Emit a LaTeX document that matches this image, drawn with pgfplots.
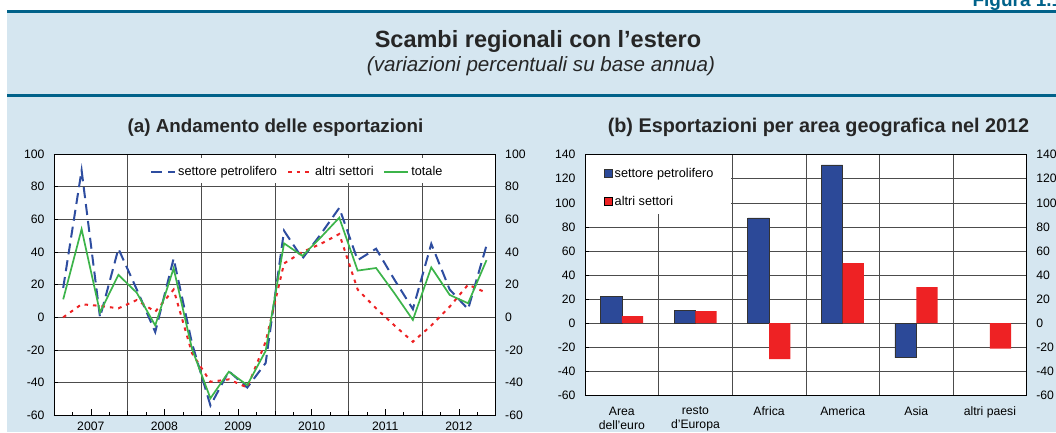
\documentclass[border=0pt]{standalone}
\usepackage{fontspec}
\setmainfont{Liberation Sans}
\usepackage{pgfplots}
\pgfplotsset{compat=1.18}

\definecolor{bgblue}{RGB}{213,230,240}
\definecolor{lineblue}{RGB}{0,98,138}
\definecolor{petro}{RGB}{46,77,160}
\definecolor{altri}{RGB}{238,34,36}
\definecolor{tot}{RGB}{60,180,74}

\newcommand{\tickfont}{\fontsize{12.2}{14}\selectfont}
\newcommand{\legfont}{\fontsize{12.7}{14}\selectfont}

\pgfplotsset{
  lnlegend/.style={legend image code/.code={\draw[##1] (0pt,0pt) -- (24pt,0pt);}},
  sqlegend/.style={legend image code/.code={\draw[##1] (0pt,-4pt) rectangle (8pt,4pt);}},
  panel/.style={
    scale only axis, anchor=south west,
    axis background/.style={fill=white},
    axis line style={black, line width=0.8pt},
    grid style={black!70, line width=0.6pt},
    tick style={black, line width=0.6pt},
    tick align=inside, tick pos=left,
    yticklabel style={font=\tickfont, xshift=-6pt},
    xticklabel style={font=\tickfont},
  },
  rightlabels/.style={
    scale only axis, anchor=south west,
    hide x axis, axis y line*=right,
    axis line style={black, line width=0.8pt},
    ytick style={draw=none},
    yticklabel style={font=\tickfont, xshift=6pt},
  },
}

\begin{document}
\begin{tikzpicture}
\useasboundingbox (0pt,0pt) rectangle (1056pt,432pt);
\fill[bgblue] (7pt,0pt) rectangle (1056pt,420pt);
\fill[lineblue] (7pt,418.5pt) rectangle (1056pt,421.5pt);
\fill[lineblue] (7pt,335.5pt) rectangle (1056pt,338.5pt);
\node[anchor=base west, text=lineblue, font=\fontsize{19}{20}\selectfont\bfseries] at (969pt,425pt) {Figura 1.1};
\node[anchor=base, font=\fontsize{23.5}{26}\selectfont\bfseries, text=black!85] at (538pt,384pt) {Scambi regionali con l’estero};
\node[anchor=base, font=\fontsize{20.6}{22}\selectfont\itshape, text=black!85] at (541pt,360pt) {(variazioni percentuali su base annua)};
\node[anchor=base, font=\fontsize{18.8}{21}\selectfont\bfseries, text=black!85] at (275.5pt,300pt) {(a) Andamento delle esportazioni};
\node[anchor=base, font=\fontsize{19.8}{21}\selectfont\bfseries, text=black!85] at (818.5pt,300pt) {(b) Esportazioni per area geografica nel 2012};

% (a) quarterly series, x = quarter index + 0.5 (2007Q1 = 0.5)
\begin{axis}[panel,
  at={(54pt,16.7pt)}, width=441.7pt, height=261.3pt,
  xmin=0, xmax=24, ymin=-60, ymax=100,
  ytick={-60,-40,...,100}, yticklabels={-60,-40,-20,0,20,40,60,80,100},
  ymajorgrids,
  xtick={4,8,12,16,20}, xticklabels={}, xmajorgrids,
  minor xtick={1,3,5,7,9,11,13,15,17,19,21,23}, minor tick length=3pt,
  extra x ticks={2,6,10,14,18,22},
  extra x tick labels={2007,2008,2009,2010,2011,2012},
  extra x tick style={grid=none, major tick length=6pt, xticklabel style={yshift=-3pt}},
  legend columns=3,
  legend style={at={(0.2106,0.931)}, anchor=west, draw=none, fill=none,
    font=\legfont, /tikz/every even column/.append style={column sep=8pt}},
]
\fill[white] (rel axis cs:0.19,0.889) rectangle (rel axis cs:0.901,0.985);
\addplot[lnlegend, petro, line width=2pt, dash pattern=on 11pt off 6pt] coordinates {
 (0.5,18) (1.5,90) (2.5,0) (3.5,42) (4.5,17) (5.5,-9) (6.5,36) (7.5,-16)
 (8.5,-54) (9.5,-33) (10.5,-43) (11.5,-28) (12.5,53) (13.5,36) (14.5,51) (15.5,67)
 (16.5,35) (17.5,42) (18.5,23) (19.5,5) (20.5,45) (21.5,17) (22.5,5) (23.5,44)};
\addlegendentry{settore petrolifero}
\addplot[lnlegend, altri, line width=2pt, dash pattern=on 3.5pt off 5pt] coordinates {
 (0.5,0) (1.5,8) (2.5,7) (3.5,5.5) (4.5,10.6) (5.5,3.4) (6.5,17) (7.5,-22)
 (8.5,-39.5) (9.5,-38) (10.5,-43) (11.5,-15) (12.5,33) (13.5,40) (14.5,45) (15.5,51)
 (16.5,17) (17.5,5.5) (18.5,-5) (19.5,-15) (20.5,-5) (21.5,6.5) (22.5,20) (23.5,15)};
\addlegendentry{altri settori}
\addplot[lnlegend, tot, line width=1.7pt] coordinates {
 (0.5,11) (1.5,54) (2.5,3) (3.5,26) (4.5,15) (5.5,-5) (6.5,30) (7.5,-19.4)
 (8.5,-49.6) (9.5,-33.3) (10.5,-41.5) (11.5,-20.6) (12.5,45.3) (13.5,37.6) (14.5,49) (15.5,61)
 (16.5,28.6) (17.5,30.2) (18.5,14.7) (19.5,-1.6) (20.5,30.6) (21.5,13.7) (22.5,8.6) (23.5,35)};
\addlegendentry{totale}
\end{axis}
\begin{axis}[rightlabels,
  at={(54pt,16.7pt)}, width=441.7pt, height=261.3pt,
  xmin=0, xmax=24, ymin=-60, ymax=100,
  ytick={-60,-40,...,100}, yticklabels={-60,-40,-20,0,20,40,60,80,100},
]
\end{axis}

% (b) bars by area
\begin{axis}[panel,
  at={(585pt,36.7pt)}, width=441.7pt, height=240.6pt,
  xmin=-0.5, xmax=5.5, ymin=-60, ymax=140,
  ytick={-60,-40,...,140}, yticklabels={-60,-40,-20,0,20,40,60,80,100,120,140},
  ymajorgrids,
  xtick={0,1,2,3,4,5},
  xticklabels={Area\\dell'euro, resto\\d'Europa, Africa, America, Asia, altri paesi},
  xticklabel style={align=center, yshift=-8pt},
  xtick style={draw=none},
  minor xtick={0.5,1.5,2.5,3.5,4.5}, xminorgrids, minor tick length=0pt,
  minor grid style={black!70, line width=0.6pt},
  legend style={at={(0.036,0.8635)}, anchor=west, draw=none, fill=none,
    font=\legfont, row sep=13pt},
  legend cell align=left,
]
\fill[white] ([xshift=0.5pt]rel axis cs:0,0.7535) rectangle ([yshift=-0.5pt]rel axis cs:0.3305,1);
\addplot[ybar, sqlegend, bar width=21.3pt, bar shift=-10.65pt, fill=petro!95!black, draw=black!80, line width=0.6pt]
 coordinates {(0,22.4) (1,10.8) (2,87.5) (3,131.6) (4,-28.8)};
\addlegendentry{settore petrolifero}
\addplot[ybar, sqlegend, bar width=21.3pt, bar shift=10.65pt, fill=altri, draw=none]
 coordinates {(0,5.8) (1,10) (2,-30) (3,49.9) (4,29.9) (5,-21.3)};
\addlegendentry{altri settori}
\end{axis}
\begin{axis}[rightlabels,
  at={(585pt,36.7pt)}, width=441.7pt, height=240.6pt,
  xmin=-0.5, xmax=5.5, ymin=-60, ymax=140,
  ytick={-60,-40,...,140}, yticklabels={-60,-40,-20,0,20,40,60,80,100,120,140},
]
\end{axis}
\end{tikzpicture}
\end{document}
